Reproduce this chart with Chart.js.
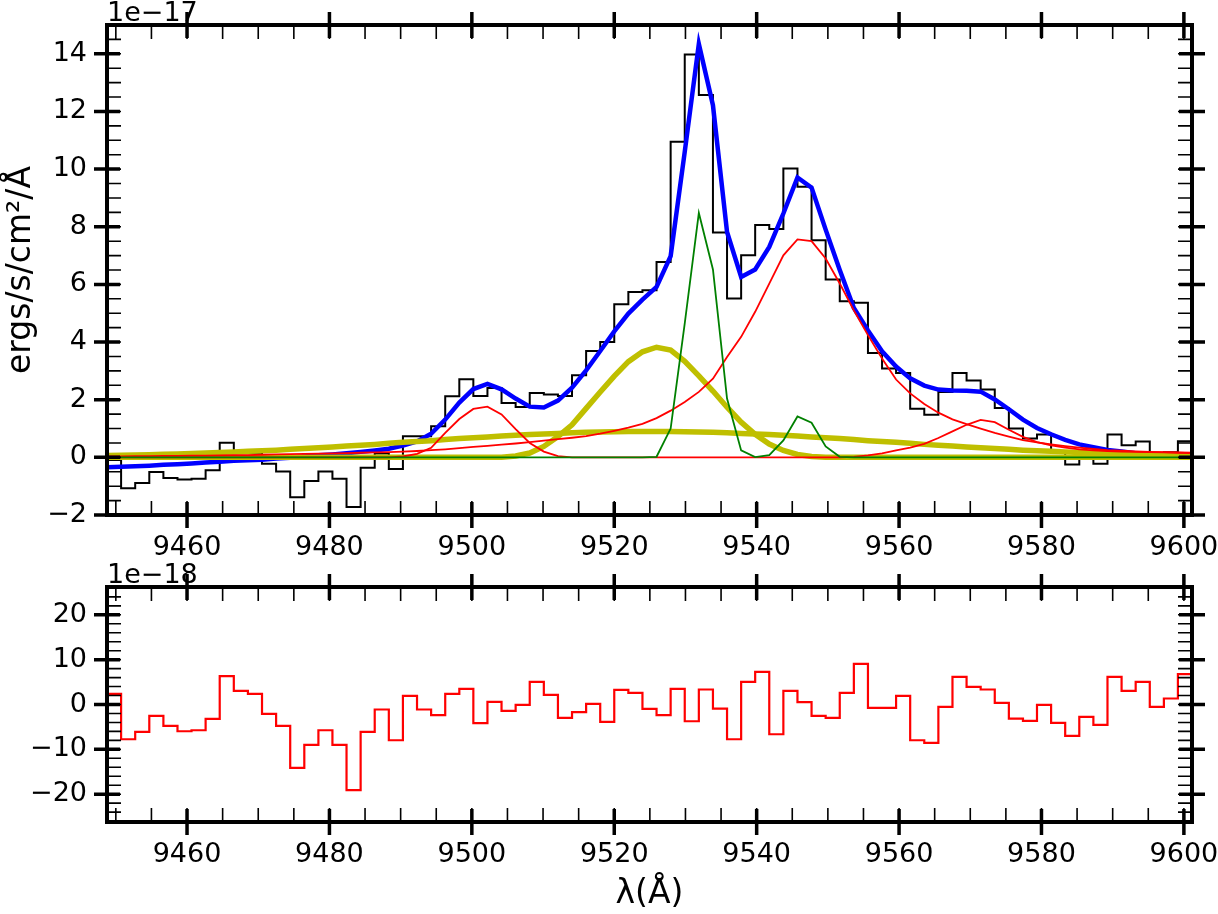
<!DOCTYPE html>
<html>
<head>
<meta charset="utf-8">
<title>Spectrum fit</title>
<script src="https://cdn.jsdelivr.net/npm/chart.js@4.4.1/dist/chart.umd.min.js"></script>
<style>
  html, body { margin: 0; padding: 0; background: #fff; overflow: hidden; }
  #wrap { position: relative; width: 1218px; height: 914px; }
  #top { position: absolute; left: 0; top: 0; width: 1218px; height: 560px; }
  #bot { position: absolute; left: 0; top: 560px; width: 1218px; height: 354px; }
</style>
</head>
<body>
<div id="wrap">
  <div id="top"><canvas id="fluxChart"></canvas></div>
  <div id="bot"><canvas id="residChart"></canvas></div>
</div>
<script>
// spectral pixel edges (Å) where the steps change
const wavelength = [
  9448.76, 9450.74, 9452.72, 9454.70, 9456.68, 9458.66, 9460.63, 9462.61, 9464.59, 9466.57,
  9468.55, 9470.53, 9472.51, 9474.49, 9476.47, 9478.45, 9480.42, 9482.40, 9484.38, 9486.36,
  9488.34, 9490.32, 9492.30, 9494.28, 9496.26, 9498.24, 9500.21, 9502.19, 9504.17, 9506.15,
  9508.13, 9510.11, 9512.09, 9514.07, 9516.05, 9518.03, 9520.00, 9521.98, 9523.96, 9525.94,
  9527.92, 9529.90, 9531.88, 9533.86, 9535.84, 9537.82, 9539.79, 9541.77, 9543.75, 9545.73,
  9547.71, 9549.69, 9551.67, 9553.65, 9555.63, 9557.61, 9559.58, 9561.56, 9563.54, 9565.52,
  9567.50, 9569.48, 9571.46, 9573.44, 9575.42, 9577.40, 9579.37, 9581.35, 9583.33, 9585.31,
  9587.29, 9589.27, 9591.25, 9593.23, 9595.21, 9597.19, 9599.16, 9601.14
];

// observed flux, units of 1e-17
const flux = [
  0.90, -0.09, -1.07, -0.89, -0.51, -0.72, -0.77, -0.74, -0.45, 0.51,
  0.20, 0.16, -0.22, -0.49, -1.38, -0.82, -0.49, -0.74, -1.72, -0.36,
  0.13, -0.40, 0.73, 0.73, 1.08, 2.12, 2.71, 2.13, 2.41, 1.89,
  1.75, 2.23, 2.18, 2.13, 2.85, 3.69, 4.00, 5.31, 5.74, 5.80,
  6.78, 10.95, 13.98, 12.57, 7.80, 5.51, 7.01, 8.06, 7.92, 10.02,
  9.39, 7.53, 6.17, 5.42, 5.36, 3.62, 3.08, 2.93, 1.69, 1.48,
  2.27, 2.93, 2.67, 2.35, 1.71, 1.00, 0.65, 0.79, 0.20, -0.25,
  0.08, -0.22, 0.79, 0.42, 0.55, 0.05, 0.18, 0.56
];

// total model (blue)
const model = [
  -0.34, -0.33, -0.31, -0.29, -0.26, -0.24, -0.21, -0.18, -0.15, -0.12,
  -0.10, -0.08, -0.04, -0.01, 0.03, 0.07, 0.10, 0.14, 0.19, 0.24,
  0.30, 0.41, 0.55, 0.82, 1.31, 1.90, 2.37, 2.55, 2.36, 2.04,
  1.76, 1.73, 1.97, 2.42, 3.02, 3.69, 4.37, 4.99, 5.47, 5.91,
  6.98, 10.60, 14.34, 12.22, 7.82, 6.26, 6.52, 7.30, 8.46, 9.71,
  9.36, 7.90, 6.50, 5.18, 4.40, 3.68, 3.15, 2.74, 2.49, 2.35,
  2.32, 2.31, 2.28, 2.01, 1.67, 1.31, 1.02, 0.80, 0.61, 0.45,
  0.35, 0.26, 0.20, 0.14, 0.10, 0.07, 0.05, 0.03
];

// narrow component (green)
const narrowGreen = [
  0, 0, 0, 0, 0, 0, 0, 0, 0, 0,
  0, 0, 0, 0, 0, 0, 0, 0, 0, 0,
  0, 0, 0, 0, 0, 0, 0, 0, 0, 0,
  0, 0, 0, 0, 0, 0, 0, 0, 0, 0.02,
  1.00, 4.65, 8.48, 6.52, 2.04, 0.24, 0.01, 0.08, 0.59, 1.42,
  1.20, 0.38, 0.02, 0, 0, 0, 0, 0, 0, 0,
  0, 0, 0, 0, 0, 0, 0, 0, 0, 0,
  0, 0, 0, 0, 0, 0, 0, 0
];

// side lines (thin red)
const sideRed = [
  0, 0, 0, 0, 0, 0, 0, 0, 0, 0,
  0, 0, 0, 0, 0, 0, 0, 0, 0, 0,
  0, 0.03, 0.12, 0.33, 0.85, 1.33, 1.68, 1.76, 1.49, 0.98,
  0.50, 0.20, 0.04, 0, 0, 0, 0, 0, 0, 0,
  0, 0, 0, 0, 0, 0, 0, 0, 0, 0,
  0, 0, 0, 0.02, 0.07, 0.14, 0.24, 0.34, 0.47, 0.67,
  0.90, 1.13, 1.30, 1.22, 0.96, 0.71, 0.53, 0.42, 0.34, 0.28,
  0.24, 0.22, 0.20, 0.19, 0.18, 0.17, 0.16, 0.15
];

// main line (thin red)
const mainRed = [
  0.03, 0.03, 0.04, 0.04, 0.05, 0.05, 0.06, 0.06, 0.07, 0.08,
  0.08, 0.09, 0.10, 0.11, 0.12, 0.13, 0.14, 0.15, 0.16, 0.17,
  0.18, 0.20, 0.22, 0.25, 0.28, 0.32, 0.36, 0.40, 0.44, 0.48,
  0.53, 0.58, 0.63, 0.68, 0.74, 0.82, 0.92, 1.03, 1.16, 1.36,
  1.62, 1.92, 2.27, 2.73, 3.48, 4.18, 5.05, 6.03, 7.01, 7.56,
  7.50, 6.90, 6.03, 5.10, 4.24, 3.43, 2.70, 2.22, 1.85, 1.55,
  1.32, 1.15, 1.00, 0.85, 0.72, 0.60, 0.52, 0.45, 0.39, 0.34,
  0.29, 0.25, 0.23, 0.21, 0.19, 0.18, 0.17, 0.16
];

// broad component (thick yellow)
const broadYellow = [
  0, 0, 0, 0, 0, 0, 0, 0, 0, 0,
  0, 0, 0, 0, 0, 0, 0, 0, 0, 0,
  0, 0, 0, 0, 0, 0, 0, 0, 0, 0.05,
  0.15, 0.38, 0.72, 1.13, 1.70, 2.27, 2.82, 3.32, 3.66, 3.82,
  3.72, 3.33, 2.83, 2.30, 1.74, 1.22, 0.80, 0.46, 0.24, 0.10,
  0.03, 0, 0, 0, 0, 0, 0, 0, 0, 0,
  0, 0, 0, 0, 0, 0, 0, 0, 0, 0,
  0, 0, 0, 0, 0, 0, 0, 0
];

// very broad component (thick yellow)
const wingYellow = [
  0.06, 0.07, 0.08, 0.09, 0.11, 0.12, 0.13, 0.15, 0.17, 0.19,
  0.21, 0.23, 0.25, 0.28, 0.31, 0.33, 0.36, 0.39, 0.42, 0.45,
  0.49, 0.52, 0.55, 0.58, 0.62, 0.65, 0.68, 0.71, 0.74, 0.77,
  0.79, 0.81, 0.83, 0.85, 0.87, 0.88, 0.89, 0.90, 0.90, 0.90,
  0.90, 0.89, 0.88, 0.87, 0.85, 0.83, 0.81, 0.79, 0.77, 0.74,
  0.71, 0.68, 0.65, 0.62, 0.58, 0.55, 0.52, 0.49, 0.45, 0.42,
  0.39, 0.36, 0.33, 0.31, 0.28, 0.25, 0.23, 0.21, 0.19, 0.17,
  0.15, 0.13, 0.12, 0.11, 0.09, 0.08, 0.07, 0.06
];

// residuals, units of 1e-18
const resid = [
  12.5, 2.37, -7.75, -6.1, -2.54, -4.77, -5.96, -5.74, -3.2, 6.32,
  3.04, 2.37, -2.1, -4.77, -14.15, -9.0, -5.74, -9.0, -19.1, -6.1,
  -1.12, -7.97, 1.93, -1.12, -2.39, 2.37, 3.49, -4.17, 0.6, -1.42,
  -0.08, 5.05, 2.15, -2.98, -1.72, 0.15, -3.88, 3.27, 2.6, -0.97,
  -2.39, 3.49, -3.73, 3.35, -0.9, -7.75, 5.05, 7.28, -6.63, 3.04,
  0.51, -2.54, -2.98, 2.6, 9.07, -0.75, -0.75, 1.93, -7.97, -8.56,
  -0.52, 6.17, 3.94, 3.35, 0.37, -3.13, -3.65, -0.08, -4.1, -7.0,
  -2.76, -4.55, 6.17, 3.04, 5.05, -0.52, 1.34, 6.76
];

const xTicks = [9460, 9480, 9500, 9520, 9540, 9560, 9580, 9600];
const fluxTicks = [-2, 0, 2, 4, 6, 8, 10, 12, 14];
const residTicks = [-20, -10, 0, 10, 20];

const FONT = '"DejaVu Sans", sans-serif';
Chart.defaults.font.family = FONT;
Chart.defaults.color = '#000';

const pts = ys => wavelength.map((x, i) => ({x: x, y: ys[i]}));
const fmt = v => (v < 0 ? '\u2212' + Math.abs(v) : String(v));

// matplotlib-like frame: thick spines, in/out major ticks, inner minor ticks, offset text
const frameTicks = {
  id: 'frameTicks',
  afterDraw(chart, args, o) {
    const {ctx, chartArea: a} = chart;
    const xs = chart.scales.x, ys = chart.scales.y;
    ctx.save();
    ctx.strokeStyle = '#000';
    ctx.lineCap = 'butt';

    ctx.lineWidth = 1.6;
    ctx.beginPath();
    for (let v = Math.ceil(xs.min / o.xMinor) * o.xMinor; v <= xs.max; v += o.xMinor) {
      const p = xs.getPixelForValue(v);
      ctx.moveTo(p, a.bottom); ctx.lineTo(p, a.bottom - 14);
      ctx.moveTo(p, a.top); ctx.lineTo(p, a.top + 14);
    }
    for (let v = Math.ceil(ys.min / o.yMinor) * o.yMinor; v <= ys.max; v += o.yMinor) {
      const p = ys.getPixelForValue(v);
      ctx.moveTo(a.left, p); ctx.lineTo(a.left + 14, p);
      ctx.moveTo(a.right, p); ctx.lineTo(a.right - 14, p);
    }
    ctx.stroke();

    ctx.lineWidth = 3.5;
    ctx.beginPath();
    xs.ticks.forEach(t => {
      const p = xs.getPixelForValue(t.value);
      ctx.moveTo(p, a.bottom + 13); ctx.lineTo(p, a.bottom - 13);
      ctx.moveTo(p, a.top - 13); ctx.lineTo(p, a.top + 13);
    });
    ys.ticks.forEach(t => {
      const p = ys.getPixelForValue(t.value);
      ctx.moveTo(a.left - 13, p); ctx.lineTo(a.left + 13, p);
      ctx.moveTo(a.right - 13, p); ctx.lineTo(a.right + 13, p);
    });
    ctx.stroke();

    ctx.lineWidth = 4;
    ctx.strokeRect(a.left, a.top, a.right - a.left, a.bottom - a.top);

    ctx.fillStyle = '#000';
    ctx.font = '27px ' + FONT;
    ctx.textAlign = 'left';
    ctx.textBaseline = 'alphabetic';
    ctx.fillText(o.offsetText, a.left, a.top - 4);
    ctx.restore();
  }
};

// keep the plot area fixed: no extra room for the end labels
const noPad = s => { s.paddingLeft = 0; s.paddingRight = 0; s.paddingTop = 0; s.paddingBottom = 0; };

function xScale(height, title) {
  return {
    type: 'linear',
    min: wavelength[0],
    max: wavelength[wavelength.length - 1],
    grid: {display: false, drawTicks: false},
    border: {display: false},
    ticks: {font: {size: 27}, padding: 17, autoSkip: false, maxRotation: 0, minRotation: 0, callback: v => fmt(v)},
    afterBuildTicks: s => { s.ticks = xTicks.map(v => ({value: v})); },
    afterFit: s => { s.height = height; noPad(s); },
    title: title ? {display: true, text: title, font: {size: 33}, padding: {top: 0, bottom: 0}} : {display: false}
  };
}

function yScale(min, max, ticks, title) {
  return {
    type: 'linear',
    min: min,
    max: max,
    grid: {display: false, drawTicks: false},
    border: {display: false},
    ticks: {font: {size: 27}, padding: 20, autoSkip: false, callback: v => fmt(v)},
    afterBuildTicks: s => { s.ticks = ticks.map(v => ({value: v})); },
    afterFit: s => { s.width = 107; noPad(s); },
    title: title ? {display: true, text: title, font: {size: 33}, padding: {top: 2, bottom: 0}} : {display: false}
  };
}

const line = (data, color, width, extra) => Object.assign({
  data: pts(data), borderColor: color, borderWidth: width,
  pointRadius: 0, pointHoverRadius: 0, fill: false, tension: 0
}, extra || {});

const common = {
  responsive: true,
  maintainAspectRatio: false,
  animation: false,
  events: [],
  plugins: {legend: {display: false}, tooltip: {enabled: false}}
};

// first dataset is drawn last (on top)
new Chart(document.getElementById('fluxChart'), {
  type: 'line',
  data: {
    datasets: [
      line(narrowGreen, '#008000', 1.8),
      line(sideRed, '#ff0000', 1.8),
      line(mainRed, '#ff0000', 1.8),
      line(wingYellow, '#bfbf00', 5.5),
      line(broadYellow, '#bfbf00', 5.5),
      line(model, '#0000ff', 4.5),
      line(flux, '#000000', 2, {stepped: 'after'})
    ]
  },
  options: Object.assign({}, common, {
    layout: {autoPadding: false, padding: {left: 0, right: 26, top: 25, bottom: 0}},
    scales: {
      x: xScale(45, null),
      y: yScale(-2, 15, fluxTicks, 'ergs/s/cm\u00b2/\u00c5')
    },
    plugins: Object.assign({}, common.plugins, {
      frameTicks: {xMinor: 5, yMinor: 0.5, offsetText: '1e\u221217'}
    })
  }),
  plugins: [frameTicks]
});

new Chart(document.getElementById('residChart'), {
  type: 'line',
  data: {
    datasets: [
      line(resid, '#ff0000', 2.2, {stepped: 'after'})
    ]
  },
  options: Object.assign({}, common, {
    layout: {autoPadding: false, padding: {left: 0, right: 26, top: 27, bottom: 0}},
    scales: {
      x: xScale(92, '\u03bb(\u00c5)'),
      y: yScale(-26.2, 26.2, residTicks, null)
    },
    plugins: Object.assign({}, common.plugins, {
      frameTicks: {xMinor: 5, yMinor: 2, offsetText: '1e\u221218'}
    })
  }),
  plugins: [frameTicks]
});
</script>
</body>
</html>
